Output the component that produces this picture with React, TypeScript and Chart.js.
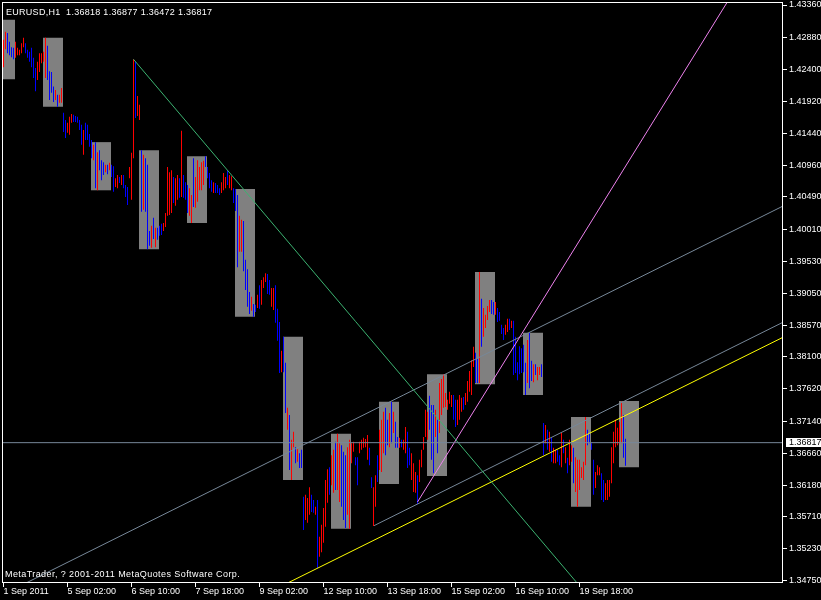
import { useEffect, useRef } from 'react';
import { Chart, registerables } from 'chart.js';

Chart.register(...registerables);

const symbolTitle = 'EURUSD,H1  1.36818 1.36877 1.36472 1.36817';
const copyrightText = 'MetaTrader, ? 2001-2011 MetaQuotes Software Corp.';
const currentPrice = 1.36817;
const currentPriceLabel = '1.36817';

const barHigh = [
  1.4284, 1.4296, 1.4294, 1.4281, 1.4273, 1.4272, 1.4281, 1.4272, 1.4269, 1.4279,
  1.4287, 1.4279, 1.4269, 1.4266, 1.4272, 1.4257, 1.4242, 1.4251, 1.4264, 1.4264,
  1.4266, 1.4287, 1.4275, 1.4237, 1.4236, 1.4214, 1.4209, 1.4202, 1.4202, 1.4212,
  1.4175, 1.4164, 1.4160, 1.4169, 1.4173, 1.4172, 1.4170, 1.4169, 1.4164, 1.4157,
  1.4149, 1.4160, 1.4157, 1.4143, 1.4134, 1.4127, 1.4131, 1.4116, 1.4119, 1.4104,
  1.4101, 1.4097, 1.4097, 1.4100, 1.4097, 1.4095, 1.4077, 1.4082, 1.4079, 1.4082,
  1.4082, 1.4067, 1.4064, 1.4094, 1.4115, 1.4255, 1.4252, 1.4200, 1.4187, 1.4119,
  1.4112, 1.4107, 1.4097, 1.3998, 1.4006, 1.4018, 1.4003, 1.4003, 1.4006, 1.4009,
  1.4010, 1.4025, 1.4094, 1.4086, 1.4089, 1.4079, 1.4077, 1.4082, 1.4077, 1.4148,
  1.4082, 1.4071, 1.4067, 1.4062, 1.4052, 1.4107, 1.4079, 1.4104, 1.4094, 1.4101,
  1.4103, 1.4110, 1.4094, 1.4085, 1.4074, 1.4071, 1.4070, 1.4067, 1.4062, 1.4071,
  1.4085, 1.4079, 1.4089, 1.4082, 1.4080, 1.4062, 1.4061, 1.4052, 1.4021, 1.4015,
  1.4013, 1.3955, 1.3941, 1.3907, 1.3900, 1.3889, 1.3888, 1.3903, 1.3917, 1.3925,
  1.3929, 1.3935, 1.3934, 1.3925, 1.3913, 1.3913, 1.3917, 1.3882, 1.3862, 1.3819,
  1.3840, 1.3801, 1.3734, 1.3723, 1.3686, 1.3698, 1.3675, 1.3672, 1.3666, 1.3671,
  1.3601, 1.3604, 1.3599, 1.3615, 1.3604, 1.3596, 1.3586, 1.3596, 1.3541, 1.3559,
  1.3584, 1.3626, 1.3642, 1.3645, 1.3663, 1.3671, 1.3683, 1.3695, 1.3681, 1.3678,
  1.3668, 1.3663, 1.3675, 1.3686, 1.3681, 1.3683, 1.3660, 1.3660, 1.3683, 1.3686,
  1.3689, 1.3687, 1.3693, 1.3674, 1.3630, 1.3615, 1.3633, 1.3663, 1.3701, 1.3716,
  1.3728, 1.3734, 1.3716, 1.3726, 1.3743, 1.3728, 1.3713, 1.3690, 1.3689, 1.3686,
  1.3686, 1.3705, 1.3698, 1.3674, 1.3666, 1.3651, 1.3638, 1.3633, 1.3656, 1.3671,
  1.3690, 1.3731, 1.3728, 1.3752, 1.3738, 1.3738, 1.3731, 1.3716, 1.3771, 1.3777,
  1.3784, 1.3756, 1.3746, 1.3758, 1.3753, 1.3753, 1.3746, 1.3746, 1.3753, 1.3749,
  1.3750, 1.3756, 1.3774, 1.3789, 1.3805, 1.3825, 1.3816, 1.3807, 1.3937, 1.3897,
  1.3883, 1.3873, 1.3886, 1.3895, 1.3895, 1.3892, 1.3892, 1.3883, 1.3877, 1.3858,
  1.3853, 1.3858, 1.3867, 1.3867, 1.3864, 1.3864, 1.3840, 1.3802, 1.3826, 1.3823,
  1.3828, 1.3801, 1.3835, 1.3846, 1.3804, 1.3799, 1.3799, 1.3795, 1.3795, 1.3799,
  1.3711, 1.3708, 1.3701, 1.3698, 1.3689, 1.3674, 1.3671, 1.3671, 1.3663, 1.3696,
  1.3686, 1.3675, 1.3659, 1.3686, 1.3678, 1.3674, 1.3660, 1.3656, 1.3656, 1.3645,
  1.3653, 1.3720, 1.3701, 1.3696, 1.3681, 1.3656, 1.3638, 1.3648, 1.3645, 1.3636,
  1.3626, 1.3621, 1.3626, 1.3626, 1.3675, 1.3698, 1.3716, 1.3704, 1.3713, 1.3743,
  1.3723, 1.36877,
];

const barLow = [
  1.4243, 1.4270, 1.4264, 1.4261, 1.4258, 1.4255, 1.4257, 1.4261, 1.4261, 1.4264,
  1.4273, 1.4264, 1.4257, 1.4251, 1.4243, 1.4227, 1.4207, 1.4224, 1.4236, 1.4249,
  1.4251, 1.4227, 1.4224, 1.4194, 1.4205, 1.4191, 1.4194, 1.4184, 1.4190, 1.4190,
  1.4146, 1.4137, 1.4145, 1.4142, 1.4160, 1.4161, 1.4161, 1.4160, 1.4149, 1.4127,
  1.4112, 1.4134, 1.4134, 1.4124, 1.4107, 1.4104, 1.4062, 1.4059, 1.4089, 1.4074,
  1.4082, 1.4086, 1.4083, 1.4089, 1.4079, 1.4057, 1.4064, 1.4062, 1.4070, 1.4067,
  1.4062, 1.4049, 1.4037, 1.4077, 1.4045, 1.4107, 1.4167, 1.4170, 1.4164, 1.4027,
  1.4030, 1.4027, 1.3971, 1.3976, 1.3973, 1.3986, 1.3974, 1.3985, 1.3991, 1.3992,
  1.3998, 1.4004, 1.4021, 1.4022, 1.4025, 1.4040, 1.4036, 1.4045, 1.4048, 1.4049,
  1.4048, 1.4045, 1.4025, 1.4021, 1.4010, 1.4034, 1.4033, 1.4042, 1.4059, 1.4059,
  1.4067, 1.4094, 1.4077, 1.4062, 1.4057, 1.4055, 1.4055, 1.4055, 1.4052, 1.4055,
  1.4059, 1.4062, 1.4067, 1.4062, 1.4059, 1.4040, 1.4028, 1.3944, 1.3967, 1.3967,
  1.3938, 1.3910, 1.3885, 1.3874, 1.3879, 1.3870, 1.3877, 1.3883, 1.3882, 1.3888,
  1.3913, 1.3922, 1.3904, 1.3903, 1.3885, 1.3880, 1.3861, 1.3834, 1.3786, 1.3787,
  1.3787, 1.3726, 1.3701, 1.3641, 1.3626, 1.3675, 1.3651, 1.3653, 1.3644, 1.3644,
  1.3551, 1.3566, 1.3562, 1.3574, 1.3578, 1.3577, 1.3574, 1.3494, 1.3511, 1.3518,
  1.3532, 1.3556, 1.3592, 1.3604, 1.3618, 1.3607, 1.3611, 1.3611, 1.3593, 1.3586,
  1.3566, 1.3554, 1.3574, 1.3553, 1.3651, 1.3668, 1.3648, 1.3618, 1.3666, 1.3671,
  1.3674, 1.3675, 1.3656, 1.3648, 1.3614, 1.3557, 1.3586, 1.3623, 1.3641, 1.3638,
  1.3666, 1.3663, 1.3678, 1.3675, 1.3681, 1.3696, 1.3674, 1.3674, 1.3674, 1.3675,
  1.3671, 1.3666, 1.3644, 1.3648, 1.3626, 1.3608, 1.3607, 1.3590, 1.3623, 1.3645,
  1.3671, 1.3690, 1.3686, 1.3701, 1.3656, 1.3636, 1.3690, 1.3666, 1.3696, 1.3723,
  1.3734, 1.3735, 1.3731, 1.3740, 1.3735, 1.3716, 1.3705, 1.3708, 1.3716, 1.3728,
  1.3731, 1.3738, 1.3743, 1.3758, 1.3753, 1.3795, 1.3771, 1.3771, 1.3771, 1.3825,
  1.3840, 1.3853, 1.3865, 1.3877, 1.3874, 1.3873, 1.3873, 1.3862, 1.3864, 1.3844,
  1.3835, 1.3843, 1.3847, 1.3850, 1.3853, 1.3783, 1.3786, 1.3775, 1.3784, 1.3786,
  1.3787, 1.3753, 1.3771, 1.3763, 1.3774, 1.3772, 1.3783, 1.3775, 1.3783, 1.3780,
  1.3663, 1.3681, 1.3671, 1.3668, 1.3653, 1.3651, 1.3651, 1.3653, 1.3648, 1.3645,
  1.3666, 1.3651, 1.3636, 1.3648, 1.3653, 1.3621, 1.3608, 1.3586, 1.3611, 1.3629,
  1.3626, 1.3648, 1.3678, 1.3681, 1.3671, 1.3604, 1.3614, 1.3633, 1.3633, 1.3596,
  1.3593, 1.3596, 1.3596, 1.3601, 1.3621, 1.3651, 1.3675, 1.3678, 1.3681, 1.3681,
  1.3659, 1.36472,
];

const barDirection =
  'RRBBBBRRRR' + 'RBBBBBBRRR' + 'RRBBBBRBRR' + 'BBRRRBBBBB' + 'RBBBBRBRBB' +
  'BRBRBBRRBR' + 'BBBRRRBRRB' + 'RBBBRBRBBB' + 'RRRRRBRRBR' + 'BBBRRBRRRR' +
  'RBBBBRBBBR' + 'RRBRRBBBRR' + 'BBBBRBBRBR' + 'RRBBRRBBBR' + 'BBRBRRBRBB' +
  'BRRRBBRBRR' + 'RRRBRRBRRB' + 'BBRRRRBBRR' + 'RRRBBRRBRR' + 'RBBRBRBBRB' +
  'RRBBRRRBRR' + 'RRRBBBRBRR' + 'RRRRRBBRRR' + 'BRRRRRBBRB' + 'RRRRBBRBBB' +
  'BRRBRBBBBB' + 'BBRBBRBRRB' + 'BRBRBRRBBR' + 'BRBRRBRRRR' + 'RRBBBBRRRB' +
  'BRRRRRRRRR' + 'BB';

const sessionStart = [-4, 20, 44, 68, 92, 116, 140, 164, 188, 212, 236, 260, 284, 308];
const sessionHigh = [1.4314, 1.4287, 1.4131, 1.4119, 1.4110, 1.4061, 1.3840, 1.3695, 1.3743, 1.3784, 1.3937, 1.3846, 1.3720, 1.3744];
const sessionLow = [1.4225, 1.4184, 1.4059, 1.3971, 1.4010, 1.3870, 1.3626, 1.3553, 1.3620, 1.3632, 1.3769, 1.3753, 1.3586, 1.3645];

const greenTrend = [[65, 1.42548], [290, 1.34606]];
const violetTrend = [[207, 1.3593], [362, 1.43409]];
const channelUpper = [[10, 1.347], [390, 1.40358]];
const channelLower = [[185.25, 1.35576], [390, 1.38621]];
const yellowTrend = [[140, 1.34688], [390, 1.38396]];

const xTickIndex = [0, 32, 64, 96, 128, 160, 192, 224, 256, 288];
const xTickLabels = ['1 Sep 2011', '5 Sep 02:00', '6 Sep 10:00', '7 Sep 18:00', '9 Sep 02:00', '12 Sep 10:00', '13 Sep 18:00', '15 Sep 02:00', '16 Sep 10:00', '19 Sep 18:00'];
const yTickLabels = ['1.43360', '1.42880', '1.42400', '1.41920', '1.41440', '1.40960', '1.40490', '1.40010', '1.39530', '1.39050', '1.38570', '1.38100', '1.37620', '1.37140', '1.36660', '1.36180', '1.35710', '1.35230', '1.34750'];

const X_MIN = -0.75;
const X_MAX = 389.75;
const Y_MIN = 1.347189;
const Y_MAX = 1.43405;

const UP_COLOR = '#FF0000';
const DOWN_COLOR = '#0000FF';
const FONT = '9px "Liberation Sans", Arial, sans-serif';

const toPts = (pts: number[][]) => pts.map(([x, y]) => ({ x, y }));

const lineDataset = (pts: number[][], color: string, order = 1) => ({
  type: 'line' as const,
  data: toPts(pts),
  borderColor: color,
  borderWidth: 1,
  pointRadius: 0,
  tension: 0,
  fill: false,
  clip: 0,
  order,
});

const mtPlugin = {
  id: 'mtFrame',
  beforeDraw(chart: any) {
    const { ctx, width, height } = chart;
    ctx.save();
    ctx.fillStyle = '#000';
    ctx.fillRect(0, 0, width, height);
    ctx.restore();
  },
  afterDraw(chart: any) {
    const { ctx, chartArea: a, scales } = chart;
    ctx.save();
    ctx.strokeStyle = '#FFFFFF';
    ctx.lineWidth = 1;
    ctx.strokeRect(a.left + 0.5, a.top + 0.5, a.right - a.left - 1, a.bottom - a.top - 1);

    const py = scales.y.getPixelForValue(currentPrice);
    ctx.fillStyle = '#FFFFFF';
    ctx.fillRect(a.right + 3, Math.round(py) - 5, chart.width - a.right - 3, 9);
    ctx.fillStyle = '#000000';
    ctx.font = FONT;
    ctx.textBaseline = 'middle';
    ctx.textAlign = 'left';
    ctx.fillText(currentPriceLabel, a.right + 6, py);

    ctx.fillStyle = '#FFFFFF';
    ctx.textBaseline = 'alphabetic';
    (ctx as any).letterSpacing = '0.28px';
    ctx.fillText(symbolTitle, a.left + 4, a.top + 13);
    (ctx as any).letterSpacing = '0.42px';
    ctx.fillText(copyrightText, a.left + 3, a.bottom - 6);
    (ctx as any).letterSpacing = '0px';
    ctx.restore();
  },
};

export default function App() {
  const ref = useRef<HTMLCanvasElement>(null);

  useEffect(() => {
    document.body.style.margin = '0';
    document.body.style.background = '#000';
    const barData = barHigh.map((h, i) => ({ x: i, y: [barLow[i], h] }));
    const barColors = barHigh.map((_, i) => (barDirection[i] === 'R' ? UP_COLOR : DOWN_COLOR));
    const boxData = sessionStart.map((s, k) => ({ x: s + 4.75, y: [sessionLow[k], sessionHigh[k]] }));

    const chart = new Chart(ref.current as HTMLCanvasElement, {
      type: 'bar',
      data: {
        datasets: [
          lineDataset([[X_MIN, currentPrice], [X_MAX, currentPrice]], '#778899', 0),
          lineDataset(greenTrend, '#3CB371'),
          lineDataset(violetTrend, '#EE82EE'),
          lineDataset(channelUpper, '#778899'),
          lineDataset(channelLower, '#778899'),
          lineDataset(yellowTrend, '#FFFF00'),
          {
            type: 'bar',
            data: barData as any,
            backgroundColor: barColors,
            borderWidth: 0,
            barThickness: 1,
            grouped: false,
            inflateAmount: 0,
            clip: 0,
            order: 2,
          } as any,
          {
            type: 'bar',
            data: boxData as any,
            backgroundColor: '#808080',
            borderWidth: 0,
            barThickness: 20,
            grouped: false,
            inflateAmount: 0,
            clip: 0,
            order: 3,
          } as any,
        ] as any,
      },
      options: {
        responsive: false,
        animation: false,
        devicePixelRatio: 1,
        events: [],
        layout: { padding: { left: 2, top: 2, right: 0, bottom: 0 } },
        plugins: { legend: { display: false }, tooltip: { enabled: false } },
        scales: {
          x: {
            type: 'linear',
            min: X_MIN,
            max: X_MAX,
            offset: false,
            afterBuildTicks: (s: any) => {
              s.ticks = xTickIndex.map((v) => ({ value: v }));
            },
            afterFit: (s: any) => {
              s.height = 17;
              s.paddingLeft = 0;
              s.paddingRight = 0;
            },
            ticks: {
              autoSkip: false,
              maxRotation: 0,
              minRotation: 0,
              align: 'start',
              padding: -1,
              color: '#FFFFFF',
              font: { family: '"Liberation Sans", Arial, sans-serif', size: 9 },
              callback: (_v: any, i: number) => xTickLabels[i],
            },
            grid: { display: true, drawOnChartArea: false, drawTicks: true, tickLength: 4, color: '#FFFFFF', offset: false },
            border: { display: false },
          } as any,
          y: {
            type: 'linear',
            position: 'right',
            min: Y_MIN,
            max: Y_MAX,
            afterBuildTicks: (s: any) => {
              s.ticks = yTickLabels.map((l) => ({ value: parseFloat(l) }));
            },
            afterFit: (s: any) => {
              s.width = 38;
              s.paddingTop = 0;
              s.paddingBottom = 0;
            },
            ticks: {
              autoSkip: false,
              padding: 2,
              color: '#FFFFFF',
              font: { family: '"Liberation Sans", Arial, sans-serif', size: 9 },
              callback: (_v: any, i: number) => yTickLabels[i],
            },
            grid: { display: true, drawOnChartArea: false, drawTicks: true, tickLength: 4, color: '#FFFFFF' },
            border: { display: false },
          } as any,
        },
      },
      plugins: [mtPlugin],
    });
    return () => chart.destroy();
  }, []);

  return (
    <div style={{ position: 'absolute', left: 0, top: 0, width: 821, height: 600, background: '#000' }}>
      <canvas ref={ref} width={821} height={600} style={{ display: 'block', width: 821, height: 600 }} />
    </div>
  );
}
